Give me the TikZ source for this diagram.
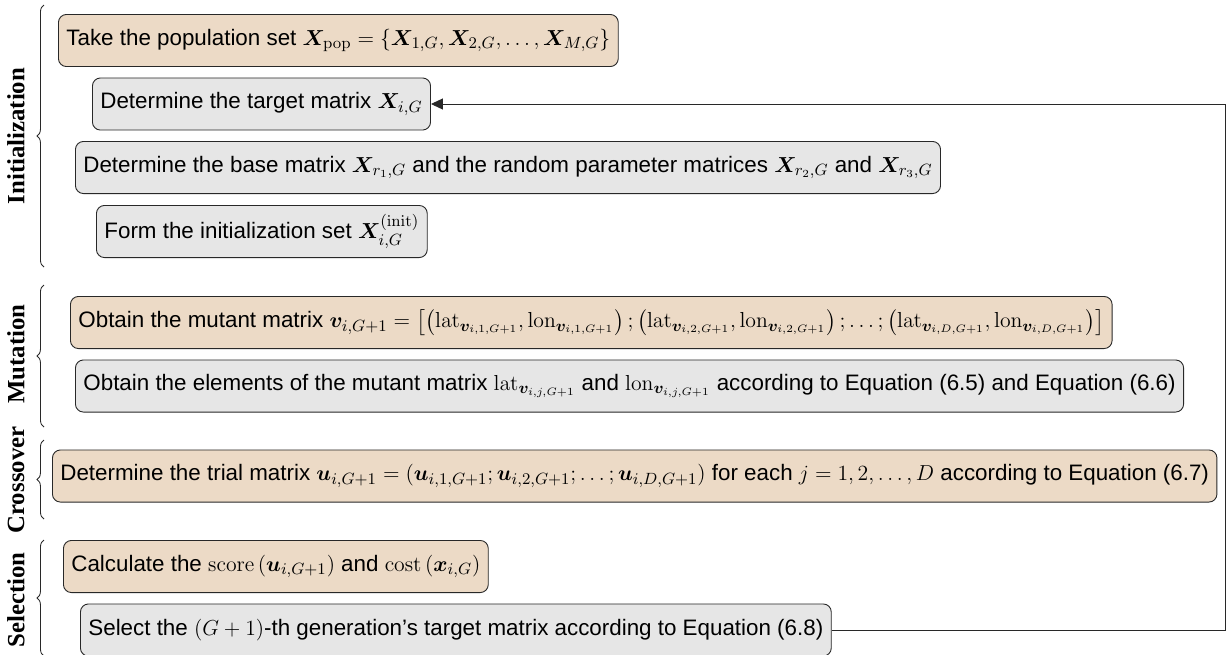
\documentclass[tikz,border=0pt]{standalone}
\usepackage{amsmath,bm}
\usepackage[no-math]{fontspec}
\newfontfamily\arialfont{Liberation Sans}
\newfontfamily\timesfont{Liberation Serif}
\usetikzlibrary{arrows.meta,decorations.pathreplacing}
\definecolor{tanc}{RGB}{236,218,198}
\definecolor{grayc}{RGB}{230,230,230}
\definecolor{linec}{RGB}{40,40,40}
\newcommand\lblsz{\fontsize{13.7}{16.4}\selectfont}
\newcommand\txtsz{\fontsize{12.37}{14.8}\selectfont}
\tikzset{
  box/.style={draw=linec, line width=0.5pt, rounded corners=4.4pt, anchor=west,
    minimum height=28.8pt, inner xsep=4.4pt, inner ysep=2pt, font=\normalsize\arialfont\txtsz},
  tanbox/.style={box, fill=tanc},
  graybox/.style={box, fill=grayc},
  phase/.style={rotate=90, font=\lblsz\timesfont\bfseries},
  brc/.style={decorate, decoration={brace, amplitude=3.9pt}, draw=linec, line width=0.47pt},
  fb/.style={draw=linec, line width=0.5pt}
}
\begin{document}
\begin{tikzpicture}[x=0.553pt,y=-0.553pt]
\useasboundingbox (0,0) rectangle (1230,654);
% boxes
\node[tanbox] (b1) at (58,40.5) {Take the population set $\bm{X}_{\mathrm{pop}} = \{\bm{X}_{1,G}, \bm{X}_{2,G}, \ldots, \bm{X}_{M,G}\}$};
\node[graybox] (b2) at (92,104) {Determine the target matrix $\bm{X}_{i,G}$};
\node[graybox] (b3) at (75,167.5) {Determine the base matrix $\bm{X}_{r_1,G}$ and the random parameter matrices $\bm{X}_{r_2,G}$ and $\bm{X}_{r_3,G}$};
\node[graybox] (b4) at (96,231.5) {Form the initialization set $\bm{X}_{i,G}^{(\mathrm{init})}$};
\node[tanbox] (b5) at (70,322.5) {Obtain the mutant matrix $\bm{v}_{i,G+1} = \left[\left(\mathrm{lat}_{\bm{v}_{i,1,G+1}}, \mathrm{lon}_{\bm{v}_{i,1,G+1}}\right); \left(\mathrm{lat}_{\bm{v}_{i,2,G+1}}, \mathrm{lon}_{\bm{v}_{i,2,G+1}}\right); \ldots; \left(\mathrm{lat}_{\bm{v}_{i,D,G+1}}, \mathrm{lon}_{\bm{v}_{i,D,G+1}}\right)\right]$};
\node[graybox] (b6) at (75,386) {Obtain the elements of the mutant matrix $\mathrm{lat}_{\bm{v}_{i,j,G+1}}$ and $\mathrm{lon}_{\bm{v}_{i,j,G+1}}$ according to Equation (6.5) and Equation (6.6)};
\node[tanbox] (b7) at (52,476) {Determine the trial matrix $\bm{u}_{i,G+1} = (\bm{u}_{i,1,G+1}; \bm{u}_{i,2,G+1}; \ldots; \bm{u}_{i,D,G+1})$ for each $j = 1, 2, \ldots, D$ according to Equation (6.7)};
\node[tanbox] (b8) at (63,566.5) {Calculate the $\mathrm{score}\,(\bm{u}_{i,G+1})$ and $\mathrm{cost}\,(\bm{x}_{i,G})$};
\node[graybox] (b9) at (80,630) {Select the $(G+1)$-th generation’s target matrix according to Equation (6.8)};
% braces
\coordinate (i1) at (44,267); \coordinate (i2) at (44,5);
\coordinate (m1) at (44,427); \coordinate (m2) at (44,285);
\coordinate (c1) at (44,519); \coordinate (c2) at (44,440);
\coordinate (s1) at (44,656); \coordinate (s2) at (44,540);
\draw[brc] (i1) -- (i2);
\draw[brc] (m1) -- (m2);
\draw[brc] (c1) -- (c2);
\draw[brc] (s1) -- (s2);
% phase labels
\node[phase] (linit) at (16,136) {Initialization};
\node[phase] (lmut) at (16,354) {Mutation};
\node[phase] (lcro) at (16,480) {Crossover};
\node[phase] (lsel) at (16,600) {Selection};
% feedback
\coordinate (fbc) at (1225,630);
\draw[fb, -{Triangle[length=6.6pt,width=6.1pt]}] (b9.east) -- (fbc) |- (b2.east);
\end{tikzpicture}
\end{document}
